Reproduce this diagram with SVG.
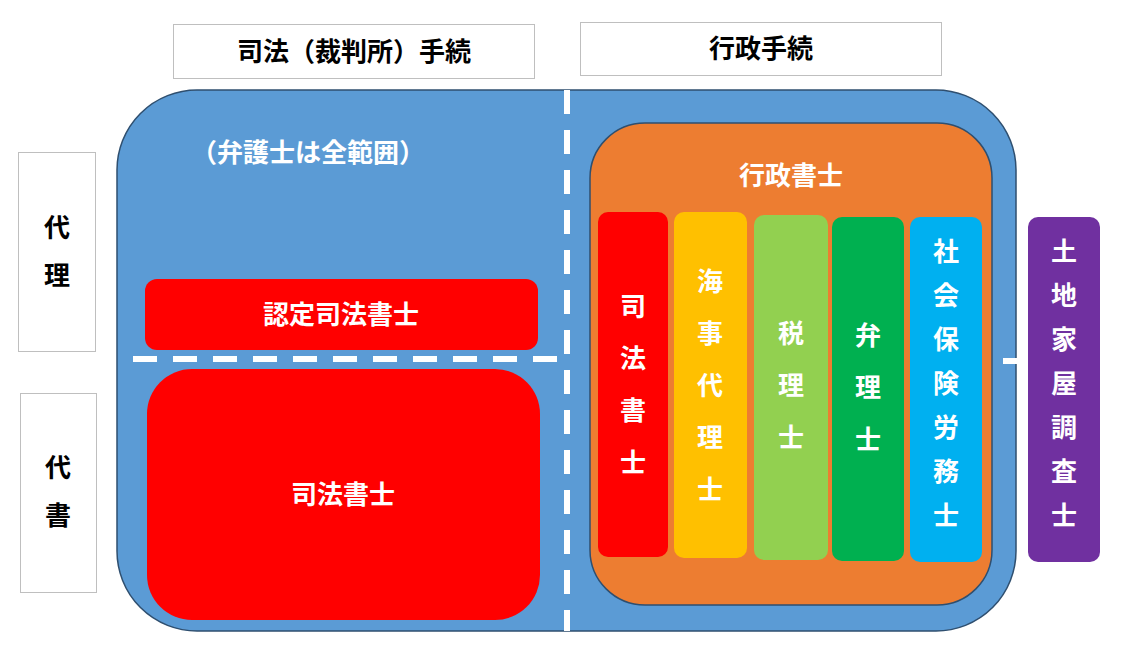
<svg xmlns="http://www.w3.org/2000/svg" width="1128" height="651" viewBox="0 0 1128 651">
<style>
text{font-family:"Noto Sans CJK JP",sans-serif;font-weight:bold;text-anchor:middle}
.w{fill:#fff;font-size:26px}
.k{fill:#000;font-size:26px}
.hdr{fill:#fff;stroke:#bfbfbf;stroke-width:1}
.dash{stroke:#fff;stroke-width:6;stroke-dasharray:24,16;fill:none}
</style>
<rect width="1128" height="651" fill="#fff"/>
<g id="header-judicial"><rect class="hdr" x="173.5" y="24.5" width="361" height="54"/><text class="k" x="354" y="61">司法（裁判所）手続</text></g>
<g id="header-admin"><rect class="hdr" x="580.5" y="22.5" width="361" height="53"/><text class="k" x="761" y="58">行政手続</text></g>
<g id="label-dairi"><rect class="hdr" x="18.5" y="152.5" width="77" height="199"/><text class="k" x="57" y="237">代</text><text class="k" x="57" y="285">理</text></g>
<g id="label-daisho"><rect class="hdr" x="20.5" y="393.5" width="76" height="199"/><text class="k" x="58" y="477">代</text><text class="k" x="58" y="525">書</text></g>
<g id="bengoshi"><rect x="117" y="90" width="899" height="541" rx="80" fill="#5b9bd5" stroke="#2f4f6f" stroke-width="1.5"/><text class="w" x="308" y="162">（弁護士は全範囲）</text></g>
<g id="nintei"><rect x="145" y="279" width="393" height="71" rx="12" fill="#ff0000"/><text class="w" x="341" y="324">認定司法書士</text></g>
<g id="shihou-big"><rect x="147" y="369" width="393" height="251" rx="45" fill="#ff0000"/><text class="w" x="343" y="504">司法書士</text></g>
<g id="connectors">
<path class="dash" d="M133 359 H567"/>
<path class="dash" d="M567 90 V631"/>
<path d="M1003 361 H1027" stroke="#fff" stroke-width="6"/>
</g>
<g id="gyosei"><rect x="590" y="123" width="402" height="482" rx="55" fill="#ed7d31" stroke="#2f4f6f" stroke-width="1.5"/><text class="w" x="791" y="185">行政書士</text></g>
<g id="col-shihou"><rect x="598" y="212" width="70" height="345" rx="10" fill="#ff0000"/><text class="w" x="633" y="316">司</text><text class="w" x="633" y="368">法</text><text class="w" x="633" y="420">書</text><text class="w" x="633" y="472">士</text></g>
<g id="col-kaiji"><rect x="674" y="212" width="73" height="346" rx="10" fill="#ffc000"/><text class="w" x="710" y="291">海</text><text class="w" x="710" y="343">事</text><text class="w" x="710" y="395">代</text><text class="w" x="710" y="447">理</text><text class="w" x="710" y="499">士</text></g>
<g id="col-zeiri"><rect x="754" y="215" width="74" height="345" rx="10" fill="#92d050"/><text class="w" x="791" y="343">税</text><text class="w" x="791" y="395">理</text><text class="w" x="791" y="447">士</text></g>
<g id="col-benri"><rect x="832" y="217" width="72" height="344" rx="10" fill="#00b050"/><text class="w" x="868" y="345">弁</text><text class="w" x="868" y="397">理</text><text class="w" x="868" y="449">士</text></g>
<g id="col-sharoushi"><rect x="910" y="217" width="72" height="345" rx="10" fill="#00b0f0"/><text class="w" x="946" y="261">社</text><text class="w" x="946" y="305">会</text><text class="w" x="946" y="349">保</text><text class="w" x="946" y="393">険</text><text class="w" x="946" y="437">労</text><text class="w" x="946" y="481">務</text><text class="w" x="946" y="525">士</text></g>
<g id="tochikaoku"><rect x="1028" y="217" width="72" height="345" rx="10" fill="#7030a0"/><text class="w" x="1064" y="261">土</text><text class="w" x="1064" y="305">地</text><text class="w" x="1064" y="349">家</text><text class="w" x="1064" y="393">屋</text><text class="w" x="1064" y="437">調</text><text class="w" x="1064" y="481">査</text><text class="w" x="1064" y="525">士</text></g>
</svg>
